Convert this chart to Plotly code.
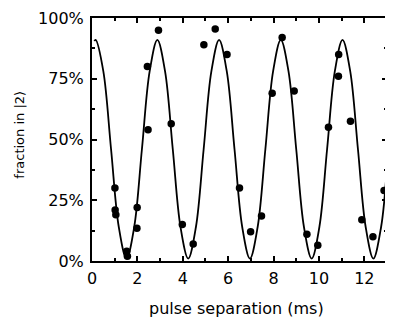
import plotly.graph_objects as go

# measured points: pulse separation (ms), fraction in |2> (%)
sep_ms = [1.01, 1.02, 1.05, 1.53, 1.56, 1.99, 1.98, 2.47, 2.44, 2.93, 3.49,
          3.98, 4.46, 4.93, 5.43, 5.95, 6.50, 6.99, 7.47, 7.94, 8.38, 8.91,
          9.47, 9.95, 10.42, 10.86, 10.87, 11.39, 11.89, 12.38, 12.87]
fraction_pct = [30, 21, 19, 4, 2, 22, 13.5, 54, 80, 95, 56.5,
                15, 7, 89, 95.5, 85, 30, 12, 18.5, 69, 92, 70,
                11, 6.5, 55, 76, 85, 57.5, 17, 10, 29]

# fitted fringe curve
curve_x = [0.10, 0.16, 0.50, 0.84, 1.18, 1.52, 1.86, 2.20, 2.54, 2.88, 3.22,
           3.56, 3.90, 4.24, 4.58, 4.92, 5.26, 5.60, 5.94, 6.28, 6.62, 6.96,
           7.30, 7.64, 7.98, 8.32, 8.66, 9.00, 9.34, 9.68, 10.02, 10.36,
           10.70, 11.04, 11.38, 11.72, 12.06, 12.40, 12.74, 12.97]
curve_y = [90.5, 91, 78, 46, 14, 1, 14, 46, 78, 91, 78,
           46, 14, 1, 14, 46, 78, 91, 78, 46, 14, 1,
           14, 46, 78, 91, 78, 46, 14, 1, 14, 46,
           78, 91, 78, 46, 14, 1, 14, 35]

x_ticks = [0, 2, 4, 6, 8, 10, 12]
y_ticks = [0, 25, 50, 75, 100]
x_title = "pulse separation (ms)"
y_title = "fraction in |2⟩"

FONT = "DejaVu Sans"

fig = go.Figure()
fig.add_trace(go.Scatter(x=curve_x, y=curve_y, mode="lines",
                         line=dict(color="black", width=1.8, shape="spline", smoothing=1),
                         hoverinfo="skip", showlegend=False))
fig.add_trace(go.Scatter(x=sep_ms, y=fraction_pct, mode="markers",
                         marker=dict(color="black", size=7.5),
                         cliponaxis=False, showlegend=False))

axis_common = dict(showgrid=False, zeroline=False, showline=True, linecolor="black",
                   linewidth=2, mirror="ticks", ticks="inside", ticklen=5,
                   tickwidth=1.5, tickcolor="black", automargin=False,
                   tickfont=dict(family=FONT, size=16, color="black"))

fig.update_xaxes(range=[0, 13], tickvals=x_ticks, ticktext=[str(v) for v in x_ticks],
                 minor=dict(dtick=1, ticks="inside", ticklen=3, tickcolor="black"),
                 ticklabelstandoff=2, **axis_common)
fig.update_yaxes(range=[0, 100], tickvals=y_ticks, ticktext=[f"{v}%" for v in y_ticks],
                 minor=dict(dtick=12.5, ticks="inside", ticklen=3, tickcolor="black"),
                 ticklabelstandoff=3, **axis_common)

fig.add_annotation(text=x_title, xref="paper", yref="paper", x=0.49, y=0,
                   xanchor="center", yanchor="top", yshift=-36, showarrow=False,
                   font=dict(family=FONT, size=16, color="black"))
fig.add_annotation(text=y_title, xref="paper", yref="paper", x=0, y=0.52,
                   xanchor="center", yanchor="middle", xshift=-72, textangle=-90,
                   showarrow=False, font=dict(family=FONT, size=13, color="black"))

# page body has an 8px default margin, so the figure is sized to fit the window
fig.update_layout(width=385, height=311, paper_bgcolor="white", plot_bgcolor="white",
                  margin=dict(l=84, r=6, t=10, b=58), showlegend=False)

fig.write_html("out.html")
